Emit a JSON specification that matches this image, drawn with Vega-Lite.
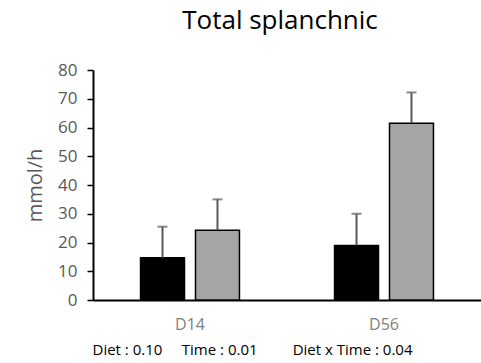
{
  "$schema": "https://vega.github.io/schema/vega-lite/v6.json",
  "width": 388,
  "height": 230,
  "autosize": {"type": "none"},
  "padding": {"left": 93, "top": 70, "right": 0, "bottom": 63},
  "background": "white",
  "title": {"text": "Total splanchnic", "fontSize": 26, "font": "Open Sans", "fontWeight": "normal", "color": "black", "anchor": "middle", "offset": 27, "dx": -7},
  "config": {"view": {"stroke": null}, "font": "Open Sans",
    "axisY": {"titleFontSize": 20, "titleFontWeight": "normal", "titleColor": "#595959", "titlePadding": 12,
      "labelOverlap": false, "grid": false, "labelFontSize": 17, "labelColor": "#595959", "labelPadding": 10,
      "tickColor": "black", "tickSize": 6, "tickWidth": 1.5, "domainColor": "black", "domainWidth": 2}},
  "data": {"values": [
    {"day": "D14", "group": "A", "value": 14.7, "err": 10.8},
    {"day": "D14", "group": "B", "value": 24.3, "err": 10.7},
    {"day": "D56", "group": "A", "value": 19.0, "err": 11.0},
    {"day": "D56", "group": "B", "value": 61.5, "err": 10.7}
  ]},
  "transform": [{"calculate": "datum.value + datum.err", "as": "hi"}],
  "encoding": {
    "x": {"field": "day", "type": "nominal", "scale": {"paddingInner": 0.49, "paddingOuter": 0.245},
      "axis": {"title": "Diet : 0.10\u00a0\u00a0\u00a0\u00a0\u00a0Time : 0.01\u00a0\u00a0\u00a0\u00a0\u00a0\u00a0\u00a0\u00a0\u00a0Diet x Time : 0.04", "titleFontSize": 15, "titleFontWeight": "normal", "titleColor": "black", "titleAnchor": "start", "titleX": -1, "titlePadding": 10,
        "labelAngle": 0, "labelFontSize": 16, "labelColor": "#7f7f7f", "labelPadding": 16, "ticks": false, "domainColor": "black", "domainWidth": 2}},
    "xOffset": {"field": "group", "type": "nominal", "scale": {"paddingInner": 0.2, "paddingOuter": 0}}
  },
  "layer": [
    {"mark": {"type": "bar", "stroke": "black", "strokeWidth": 1.5},
     "encoding": {
       "y": {"field": "value", "type": "quantitative", "scale": {"domain": [0, 80]}, "axis": {"title": "mmol/h", "values": [0,10,20,30,40,50,60,70,80]}},
       "fill": {"field": "group", "type": "nominal", "scale": {"domain": ["A", "B"], "range": ["#000000", "#a5a5a5"]}, "legend": null}
     }},
    {"mark": {"type": "rule", "color": "#595959", "strokeWidth": 2},
     "encoding": {"y": {"field": "value", "type": "quantitative", "axis": {"title": "mmol/h", "values": [0,10,20,30,40,50,60,70,80]}}, "y2": {"field": "hi"}}},
    {"mark": {"type": "tick", "color": "#595959", "thickness": 2, "size": 10, "orient": "horizontal"},
     "encoding": {"y": {"field": "hi", "type": "quantitative", "axis": {"title": "mmol/h", "values": [0,10,20,30,40,50,60,70,80]}}}}
  ]
}
